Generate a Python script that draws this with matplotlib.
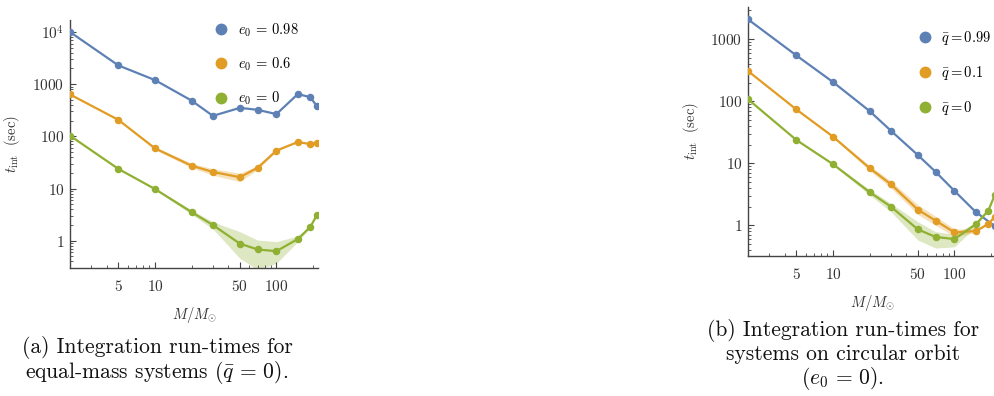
import matplotlib
matplotlib.use("Agg")
import matplotlib.pyplot as plt
from matplotlib.lines import Line2D
from matplotlib.ticker import FixedLocator, FixedFormatter, LogLocator, NullFormatter

plt.rcParams["mathtext.fontset"] = "cm"
plt.rcParams["font.family"] = ["cmr10", "DejaVu Serif"]
plt.rcParams["axes.formatter.use_mathtext"] = True

# Total mass in solar masses
mass = [2, 5, 10, 20, 30, 50, 70, 100, 150, 190, 215]
mass_q99 = [2, 5, 10, 20, 30, 50, 70, 100, 150, 215]

# (a) equal-mass systems, run-times in seconds for three eccentricities
t_e098 = [10000, 2290, 1200, 486, 247, 352, 323, 267, 646, 565, 380]
t_e06 = [636, 207, 59, 27.5, 20.8, 16.5, 25, 53.4, 78, 71, 76]
t_e06_lo = [636, 201, 55.5, 25.0, 18.0, 13.6, 23.0, 51.0, 78, 71, 76]
t_e06_hi = [636, 213, 63.0, 30.5, 24.0, 19.7, 27.5, 56.0, 78, 71, 76]
t_e0 = [103, 23.8, 9.8, 3.55, 2.0, 0.88, 0.68, 0.63, 1.08, 1.83, 3.07]
t_e0_lo = [103, 23.8, 9.5, 3.2, 1.68, 0.46, 0.28, 0.37, 0.96, 1.78, 3.07]
t_e0_hi = [103, 23.8, 10.1, 3.9, 2.3, 1.49, 1.03, 0.96, 1.23, 1.88, 3.07]

# (b) circular orbits, run-times in seconds for three mass-ratio parameters
t_q099 = [2100, 550, 205, 70, 33.6, 13.6, 7.3, 3.6, 1.64, 0.97]
t_q01 = [308, 74, 27, 8.4, 4.6, 1.79, 1.19, 0.77, 0.81, 1.05, 1.38]
t_q01_lo = [308, 73, 26, 7.7, 4.0, 1.5, 1.0, 0.66, 0.76, 1.05, 1.38]
t_q01_hi = [308, 75, 28, 9.2, 5.2, 2.15, 1.4, 0.88, 0.86, 1.05, 1.38]
t_q0 = [108, 23.8, 9.7, 3.44, 2.0, 0.86, 0.65, 0.60, 1.04, 1.72, 3.08]
t_q0_lo = [108, 23.8, 9.4, 3.1, 1.66, 0.58, 0.43, 0.45, 0.95, 1.72, 3.08]
t_q0_hi = [108, 23.8, 10.0, 3.8, 2.26, 1.14, 0.79, 0.72, 1.12, 1.72, 3.08]

x_ticks = [5, 10, 50, 100]
x_tick_labels = ["$5$", "$10$", "$50$", "$100$"]

BLUE = "#5E81B5"
ORANGE = "#E19C24"
GREEN = "#8FB032"
AXIS = "#444444"

fig = plt.figure(figsize=(9.95, 3.96), dpi=100)
ax1 = fig.add_axes([0.0704, 0.3232, 0.2492, 0.6263])
ax2 = fig.add_axes([0.7518, 0.3535, 0.2492, 0.6295])


def series(ax, x, y, color, lo=None, hi=None):
    if lo is not None:
        ax.fill_between(x, lo, hi, color=color, alpha=0.3, lw=0, zorder=1)
    ax.plot(x, y, color=color, lw=1.6, marker="o", ms=4.4, zorder=3,
            solid_joinstyle="round")


def style(ax, ylim, yticks, ylabels, xlab_y, ylab_x):
    ax.set_xscale("log")
    ax.set_yscale("log")
    ax.set_xlim(2, 220)
    ax.set_ylim(*ylim)
    for s in ("top", "right"):
        ax.spines[s].set_visible(False)
    for s in ("left", "bottom"):
        ax.spines[s].set_color(AXIS)
        ax.spines[s].set_linewidth(1.0)
    ax.xaxis.set_major_locator(FixedLocator(x_ticks))
    ax.xaxis.set_major_formatter(FixedFormatter(x_tick_labels))
    ax.xaxis.set_minor_locator(LogLocator(base=10, subs=range(2, 10)))
    ax.xaxis.set_minor_formatter(NullFormatter())
    ax.yaxis.set_major_locator(FixedLocator(yticks))
    ax.yaxis.set_major_formatter(FixedFormatter(ylabels))
    ax.yaxis.set_minor_locator(LogLocator(base=10, subs=range(2, 10)))
    ax.yaxis.set_minor_formatter(NullFormatter())
    ax.tick_params(which="both", direction="in", color=AXIS, labelcolor="#333333",
                   labelsize=11)
    ax.tick_params(which="major", length=4, width=0.8)
    ax.tick_params(which="minor", length=2, width=0.6)
    ax.tick_params(axis="x", which="major", pad=8)
    ax.tick_params(axis="y", which="major", pad=4)
    ax.set_xlabel(r"$M/M_{\odot}$", fontsize=10.5, color="#333333")
    ax.xaxis.set_label_coords(0.5, xlab_y)
    ax.set_ylabel(r"$t_{\rm int}\ \ (\rm sec)$", fontsize=10.5, color="#333333")
    ax.yaxis.set_label_coords(ylab_x, 0.5)


def legend(ax, labels, anchor, pad):
    handles = [Line2D([], [], ls="none", marker="o", ms=7.5, color=c)
               for c in (BLUE, ORANGE, GREEN)]
    ax.legend(handles, labels, loc="upper left", bbox_to_anchor=anchor,
              frameon=False, fontsize=10.5, handlelength=0.8, handletextpad=pad,
              labelspacing=1.15, borderaxespad=0, borderpad=0)


series(ax1, mass, t_e098, BLUE)
series(ax1, mass, t_e06, ORANGE, t_e06_lo, t_e06_hi)
series(ax1, mass, t_e0, GREEN, t_e0_lo, t_e0_hi)
style(ax1, (0.3, 1.7e4), [1, 10, 100, 1000, 1e4],
      ["$1$", "$10$", "$100$", "$1000$", "$10^4$"], -0.15, -0.194)
legend(ax1, [r"$e_0\,=\,0.98$", r"$e_0\,=\,0.6$", r"$e_0\,=\,0$"],
       (0.585, 0.995), 0.8)

series(ax2, mass_q99, t_q099, BLUE)
series(ax2, mass, t_q01, ORANGE, t_q01_lo, t_q01_hi)
series(ax2, mass, t_q0, GREEN, t_q0_lo, t_q0_hi)
style(ax2, (0.32, 3360), [1, 10, 100, 1000],
      ["$1$", "$10$", "$100$", "$1000$"], -0.149, -0.189)
legend(ax2, [r"$\bar{q} = 0.99$", r"$\bar{q} = 0.1$", r"$\bar{q} = 0$"],
       (0.69, 0.91), 0.7)

cap = dict(fontsize=15.5, ha="center", va="baseline", color="#111111")
fig.text(157 / 995, 1 - 353 / 396, "(a) Integration run-times for", **cap)
fig.text(157 / 995, 1 - 378 / 396,
         r"equal-mass systems ($\bar{q}\,=\,0$).", **cap)
fig.text(843 / 995, 1 - 336 / 396, "(b) Integration run-times for", **cap)
fig.text(843 / 995, 1 - 360 / 396, "systems on circular orbit", **cap)
fig.text(843 / 995, 1 - 384 / 396, r"($e_0\,=\,0$).", **cap)

fig.savefig("out.png", dpi=100)
